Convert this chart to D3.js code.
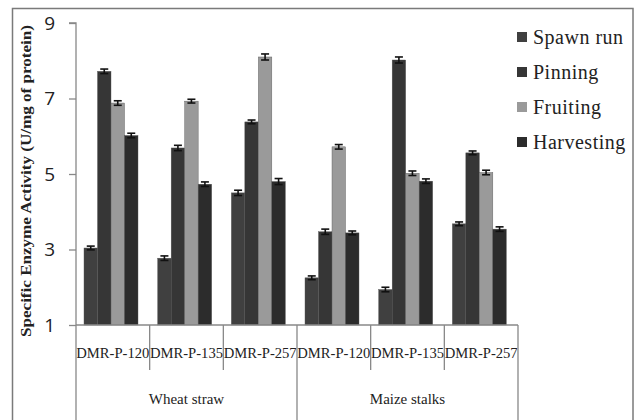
<!DOCTYPE html>
<html><head><meta charset="utf-8">
<script src="https://cdn.jsdelivr.net/npm/d3@7/dist/d3.min.js"></script>
<style>body{margin:0;background:#fff}svg{display:block}</style>
</head><body><svg id="c" width="636" height="420"></svg>
<script>
const substrates = ["Wheat straw", "Maize stalks"];
const strains = ["DMR-P-120", "DMR-P-135", "DMR-P-257"];
const stages = ["Spawn run", "Pinning", "Fruiting", "Harvesting"];
const stageColors = ["#404040", "#363636", "#9a9a9a", "#2c2c2c"];
const spawnRun   = [3.04, 2.77, 4.50, 2.25, 1.94, 3.68];
const pinning    = [7.72, 5.69, 6.38, 3.47, 8.02, 5.56];
const fruiting   = [6.88, 6.93, 8.10, 5.72, 5.02, 5.04];
const harvesting = [6.02, 4.73, 4.80, 3.44, 4.81, 3.54];
const errSpawn   = [0.05, 0.06, 0.07, 0.05, 0.06, 0.05];
const errPin     = [0.06, 0.07, 0.05, 0.07, 0.08, 0.05];
const errFruit   = [0.06, 0.05, 0.08, 0.06, 0.06, 0.06];
const errHarv    = [0.06, 0.06, 0.08, 0.05, 0.06, 0.06];
const yTicks = [1, 3, 5, 7, 9];

const series = [spawnRun, pinning, fruiting, harvesting];
const errs = [errSpawn, errPin, errFruit, errHarv];
const cats = [];
substrates.forEach(s => strains.forEach(st => cats.push(s + "|" + st)));
const SERIF = "'Times New Roman', 'Liberation Serif', Tinos, serif";

const svg = d3.select("#c");
svg.append("rect").attr("x", 12.5).attr("y", 8.5).attr("width", 620.5).attr("height", 420)
  .attr("fill", "none").attr("stroke", "#7a7a7a").attr("stroke-width", 1.5);

const x0 = 76, x1 = 518, yTop = 23, yBot = 325;
const x = d3.scaleBand().domain(cats).range([x0, x1]);
const xs = d3.scaleBand().domain(stages).range([8, 62]);
const y = d3.scaleLinear().domain([1, 9]).range([yBot, yTop]);

const g = svg.append("g");
series.forEach((vals, si) => {
  vals.forEach((v, ci) => {
    const bx = x(cats[ci]) + xs(stages[si]);
    g.append("rect").attr("x", bx).attr("y", y(v)).attr("width", xs.bandwidth())
      .attr("height", y(1) - y(v)).attr("fill", stageColors[si])
      .attr("stroke", "#555").attr("stroke-width", 0.4);
    const e = errs[si][ci];
    const cx = bx + xs.bandwidth() / 2;
    const eg = g.append("g").attr("stroke", "#111").attr("stroke-width", 1.6);
    eg.append("line").attr("x1", cx).attr("x2", cx).attr("y1", y(v + e)).attr("y2", y(v - e));
    eg.append("line").attr("x1", cx - 4).attr("x2", cx + 4).attr("y1", y(v + e)).attr("y2", y(v + e));
    eg.append("line").attr("x1", cx - 4).attr("x2", cx + 4).attr("y1", y(v - e)).attr("y2", y(v - e));
  });
});

const yAxis = d3.axisLeft(y).tickValues(yTicks).tickSize(7).tickPadding(14).tickFormat(d3.format("d"));
const ya = svg.append("g").attr("transform", `translate(${x0},0)`).call(yAxis);
ya.select(".domain").attr("stroke", "#888").attr("stroke-width", 1.3).attr("d", `M-7,${yTop}H0V${yBot}`);
ya.selectAll(".tick line").attr("stroke", "#888").attr("stroke-width", 1.3);
ya.selectAll(".tick text").attr("font-family", "'Open Sans', 'Noto Sans', sans-serif").attr("font-size", 19).attr("fill", "#222");

const xa = svg.append("g");
xa.append("line").attr("x1", x0).attr("x2", x1).attr("y1", yBot).attr("y2", yBot)
  .attr("stroke", "#888").attr("stroke-width", 1.3);
cats.forEach((c, i) => {
  const st = c.split("|")[1];
  xa.append("text").attr("x", x(c) + x.bandwidth() / 2).attr("y", 358)
    .attr("text-anchor", "middle").attr("font-family", SERIF)
    .attr("font-size", 15).attr("fill", "#222")
    .attr("textLength", 73).attr("lengthAdjust", "spacingAndGlyphs").text(st);
});
cats.forEach((c, i) => {
  if (i % 3 === 0) return;
  xa.append("line").attr("x1", x(c)).attr("x2", x(c)).attr("y1", yBot).attr("y2", 370)
    .attr("stroke", "#888").attr("stroke-width", 1.3);
});
[x0, x(cats[3]), x1].forEach(px => {
  xa.append("line").attr("x1", px).attr("x2", px).attr("y1", yBot).attr("y2", 420)
    .attr("stroke", "#888").attr("stroke-width", 1.3);
});
substrates.forEach((s, i) => {
  const a = x(cats[i * 3]), b = x(cats[i * 3 + 2]) + x.bandwidth();
  xa.append("text").attr("x", (a + b) / 2).attr("y", 404).attr("text-anchor", "middle")
    .attr("font-family", SERIF).attr("font-size", 15).attr("fill", "#222").text(s);
});

svg.append("text").attr("transform", "translate(31,181) rotate(-90)")
  .attr("text-anchor", "middle").attr("font-family", SERIF)
  .attr("font-weight", "bold").attr("font-size", 15).attr("fill", "#222")
  .attr("textLength", 312).attr("lengthAdjust", "spacingAndGlyphs")
  .text("Specific Enzyme Activity (U/mg of protein)");

const lg = svg.append("g");
stages.forEach((s, i) => {
  const ly = 37 + i * 35;
  lg.append("rect").attr("x", 517).attr("y", ly - 5).attr("width", 10).attr("height", 10)
    .attr("fill", stageColors[i]);
  lg.append("text").attr("x", 533).attr("y", ly + 7).attr("font-family", SERIF)
    .attr("font-size", 20).attr("fill", "#222").attr("letter-spacing", 0.5).text(s);
});
</script></body></html>
